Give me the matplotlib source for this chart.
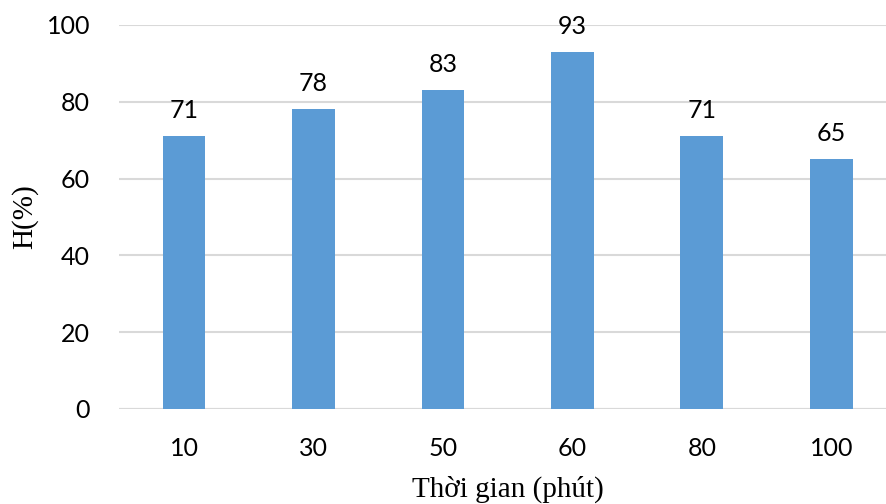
import matplotlib
matplotlib.use("Agg")
import matplotlib.pyplot as plt

categories = ["10", "30", "50", "60", "80", "100"]
values = [71, 78, 83, 93, 71, 65]
y_ticks = [0, 20, 40, 60, 80, 100]

bar_color = "#5B9BD5"
grid_color = "#D9D9D9"

fig = plt.figure(figsize=(8.86, 5.04), dpi=100)
ax = fig.add_axes([0.1347, 0.1885, 0.8765, 0.7619])

x = list(range(len(categories)))
ax.bar(x, values, width=0.33, color=bar_color, zorder=3)

for xi, v in zip(x, values):
    ax.annotate(f"{v}", (xi, v), xytext=(0, 13), textcoords="offset points",
                ha="center", va="baseline", fontsize=18, family="Lato", color="#000000")

ax.set_xlim(-0.5, len(categories) - 0.5)
ax.set_ylim(0, 100)
ax.set_yticks(y_ticks)
ax.set_xticks(x)
ax.set_xticklabels(categories)
ax.yaxis.grid(True, color=grid_color, linewidth=1.5, zorder=0)
ax.set_axisbelow(True)
for s in ax.spines.values():
    s.set_visible(False)
ax.axhline(0, color=grid_color, linewidth=1.5, zorder=1)

ax.tick_params(axis="both", length=0, labelsize=18, labelcolor="#000000")
ax.tick_params(axis="x", pad=20)
ax.tick_params(axis="y", pad=21)
for lab in ax.get_xticklabels() + ax.get_yticklabels():
    lab.set_family("Lato")

ax.set_xlabel("Thời gian (phút)", fontsize=21, family="Liberation Serif")
ax.set_ylabel("H(%)", fontsize=21, family="Liberation Serif")
ax.xaxis.label.set_va("baseline")
ax.xaxis.set_label_coords(0.5, -0.229)
ax.yaxis.set_label_coords(-0.104, 0.5)

fig.savefig("out.png", dpi=100)
